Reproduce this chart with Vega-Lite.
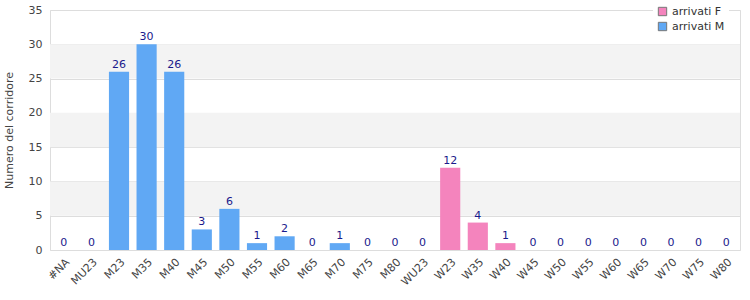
{
  "$schema": "https://vega.github.io/schema/vega-lite/v6.json",
  "width": 690,
  "height": 240,
  "autosize": {"type": "none"},
  "padding": {"left": 50, "top": 10, "right": 10, "bottom": 50},
  "background": "white",
  "config": {
    "font": "DejaVu Sans",
    "view": {"stroke": "#dddddd", "strokeWidth": 1},
    "axisY": {
      "labelColor": "#444444", "labelFontSize": 11, "ticks": false, "domain": false,
      "gridColor": "#dddddd", "labelPadding": 8, "labelOverlap": false,
      "values": [0, 5, 10, 15, 20, 25, 30, 35],
      "titleFontWeight": "normal", "titleFontSize": 11, "titleColor": "#444444", "titlePadding": 14
    }
  },
  "datasets": {
    "bars": [
      {"cat": "#NA", "n": 0, "serie": "arrivati M"},
      {"cat": "MU23", "n": 0, "serie": "arrivati M"},
      {"cat": "M23", "n": 26, "serie": "arrivati M"},
      {"cat": "M35", "n": 30, "serie": "arrivati M"},
      {"cat": "M40", "n": 26, "serie": "arrivati M"},
      {"cat": "M45", "n": 3, "serie": "arrivati M"},
      {"cat": "M50", "n": 6, "serie": "arrivati M"},
      {"cat": "M55", "n": 1, "serie": "arrivati M"},
      {"cat": "M60", "n": 2, "serie": "arrivati M"},
      {"cat": "M65", "n": 0, "serie": "arrivati M"},
      {"cat": "M70", "n": 1, "serie": "arrivati M"},
      {"cat": "M75", "n": 0, "serie": "arrivati M"},
      {"cat": "M80", "n": 0, "serie": "arrivati M"},
      {"cat": "WU23", "n": 0, "serie": "arrivati F"},
      {"cat": "W23", "n": 12, "serie": "arrivati F"},
      {"cat": "W35", "n": 4, "serie": "arrivati F"},
      {"cat": "W40", "n": 1, "serie": "arrivati F"},
      {"cat": "W45", "n": 0, "serie": "arrivati F"},
      {"cat": "W50", "n": 0, "serie": "arrivati F"},
      {"cat": "W55", "n": 0, "serie": "arrivati F"},
      {"cat": "W60", "n": 0, "serie": "arrivati F"},
      {"cat": "W65", "n": 0, "serie": "arrivati F"},
      {"cat": "W70", "n": 0, "serie": "arrivati F"},
      {"cat": "W75", "n": 0, "serie": "arrivati F"},
      {"cat": "W80", "n": 0, "serie": "arrivati F"}
    ],
    "bands": [
      {"lo": 5, "hi": 10},
      {"lo": 15, "hi": 20},
      {"lo": 25, "hi": 30}
    ]
  },
  "layer": [
    {
      "data": {"name": "bands"},
      "mark": {"type": "rect", "color": "#f3f3f3"},
      "encoding": {
        "y": {"field": "lo", "type": "quantitative", "scale": {"domain": [0, 35]},
              "axis": {"title": "Numero del corridore"}},
        "y2": {"field": "hi"}
      }
    },
    {
      "data": {"name": "bars"},
      "layer": [
        {
          "mark": {"type": "bar"},
          "encoding": {
            "x": {
              "field": "cat", "type": "nominal", "sort": null,
              "scale": {"paddingInner": 0.27, "paddingOuter": 0.135},
              "axis": {
                "title": null, "labelAngle": -45, "labelColor": "#444444",
                "labelFontSize": 11, "ticks": false, "domain": false,
                "labelPadding": 6
              }
            },
            "y": {
              "field": "n", "type": "quantitative",
              "scale": {"domain": [0, 35]},
              "axis": {"title": "Numero del corridore"}
            },
            "color": {
              "field": "serie", "type": "nominal",
              "scale": {"domain": ["arrivati F", "arrivati M"], "range": ["#f484bd", "#60a8f4"]},
              "legend": {
                "title": null, "orient": "none", "legendX": 603, "legendY": -8,
                "symbolType": "square", "symbolSize": 70, "symbolStrokeColor": "#777777",
                "symbolStrokeWidth": 1, "labelFontSize": 11, "labelColor": "#333333",
                "fillColor": "white", "padding": 4, "rowPadding": 2
              }
            }
          }
        },
        {
          "mark": {"type": "text", "dy": -7, "color": "#1a1a8c", "fontSize": 11},
          "encoding": {
            "x": {"field": "cat", "type": "nominal", "sort": null},
            "y": {"field": "n", "type": "quantitative"},
            "text": {"field": "n", "type": "quantitative"}
          }
        }
      ]
    }
  ]
}
